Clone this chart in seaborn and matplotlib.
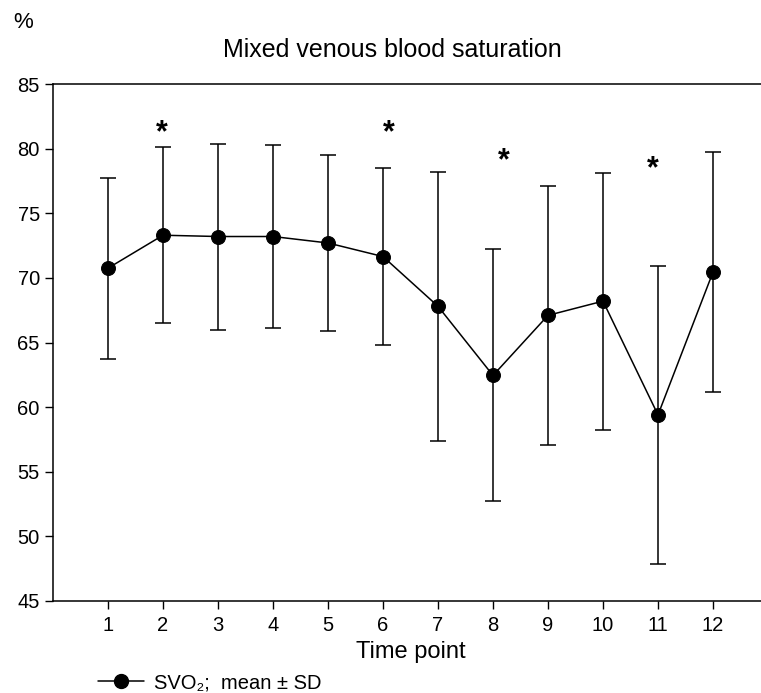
"""Mixed venous blood saturation over time points (mean ± SD)."""

import numpy as np
import pandas as pd
import seaborn as sns
import matplotlib.pyplot as plt
from matplotlib.lines import Line2D

# ---------------------------------------------------------------------------
# Data
# ---------------------------------------------------------------------------
time_points = [1, 2, 3, 4, 5, 6, 7, 8, 9, 10, 11, 12]
svo2_mean = [70.75, 73.3, 73.2, 73.2, 72.7, 71.65, 67.8, 62.45, 67.1, 68.2, 59.4, 70.45]
svo2_low = [63.7, 66.5, 66.0, 66.1, 65.9, 64.8, 57.4, 52.7, 57.1, 58.2, 47.9, 61.15]
svo2_high = [77.7, 80.1, 80.35, 80.25, 79.5, 78.5, 78.2, 72.2, 77.1, 78.15, 70.9, 79.75]

star_x = [1.98, 6.1, 8.2, 10.9]
star_y = [81.2, 81.2, 79.0, 78.4]

df = pd.DataFrame({"time": time_points, "svo2": svo2_mean})

sns.set_theme(style="ticks")
plt.rcParams["font.family"] = ["Liberation Sans", "DejaVu Sans"]
plt.rcParams["text.color"] = "black"
plt.rcParams["axes.labelcolor"] = "black"

fig = plt.figure(figsize=(7.61, 6.93), dpi=100)
ax = fig.add_axes([53 / 761, 1 - 601 / 693, 715 / 761, 517 / 693])

sns.lineplot(data=df, x="time", y="svo2", ax=ax, color="black", lw=1.1,
             marker="o", markersize=10, markeredgecolor="black", zorder=3)

yerr = np.array([np.subtract(svo2_mean, svo2_low), np.subtract(svo2_high, svo2_mean)])
ax.errorbar(time_points, svo2_mean, yerr=yerr, fmt="none", ecolor="black",
            elinewidth=1.1, capsize=6, capthick=1.1, zorder=2)

for x, y in zip(star_x, star_y):
    ax.text(x, y, "*", ha="center", va="center", fontsize=22, fontweight="bold",
            color="black")

ax.set_xlim(0, 13)
ax.set_ylim(45, 85)
ax.set_xticks(time_points)
ax.set_yticks(range(45, 90, 5))
ax.tick_params(axis="both", labelsize=14.5, length=6, width=1, direction="out",
               color="black", labelcolor="black")
ax.tick_params(axis="x", pad=5)
for s in ax.spines.values():
    s.set_color("black")
    s.set_linewidth(1.1)

ax.set_xlabel("Time point", fontsize=17, labelpad=4, color="black")
ax.set_ylabel("")

fig.text(392 / 761, 1 - 50 / 693, "Mixed venous blood saturation", ha="center",
         va="center", fontsize=18, color="black")
fig.text(13 / 761, 1 - 22 / 693, "%", ha="left", va="center", fontsize=16,
         color="black")

handle = Line2D([], [], color="black", lw=1.1, marker="o", markersize=10)
leg = fig.legend([handle], ["SVO\u2082;  mean \u00b1 SD"], loc="center left",
                 bbox_to_anchor=(80 / 761, 1 - 683 / 693), frameon=False,
                 fontsize=14.5, handlelength=2.3, handletextpad=0.45)
for t in leg.get_texts():
    t.set_color("black")

fig.savefig("out.png", dpi=100)
